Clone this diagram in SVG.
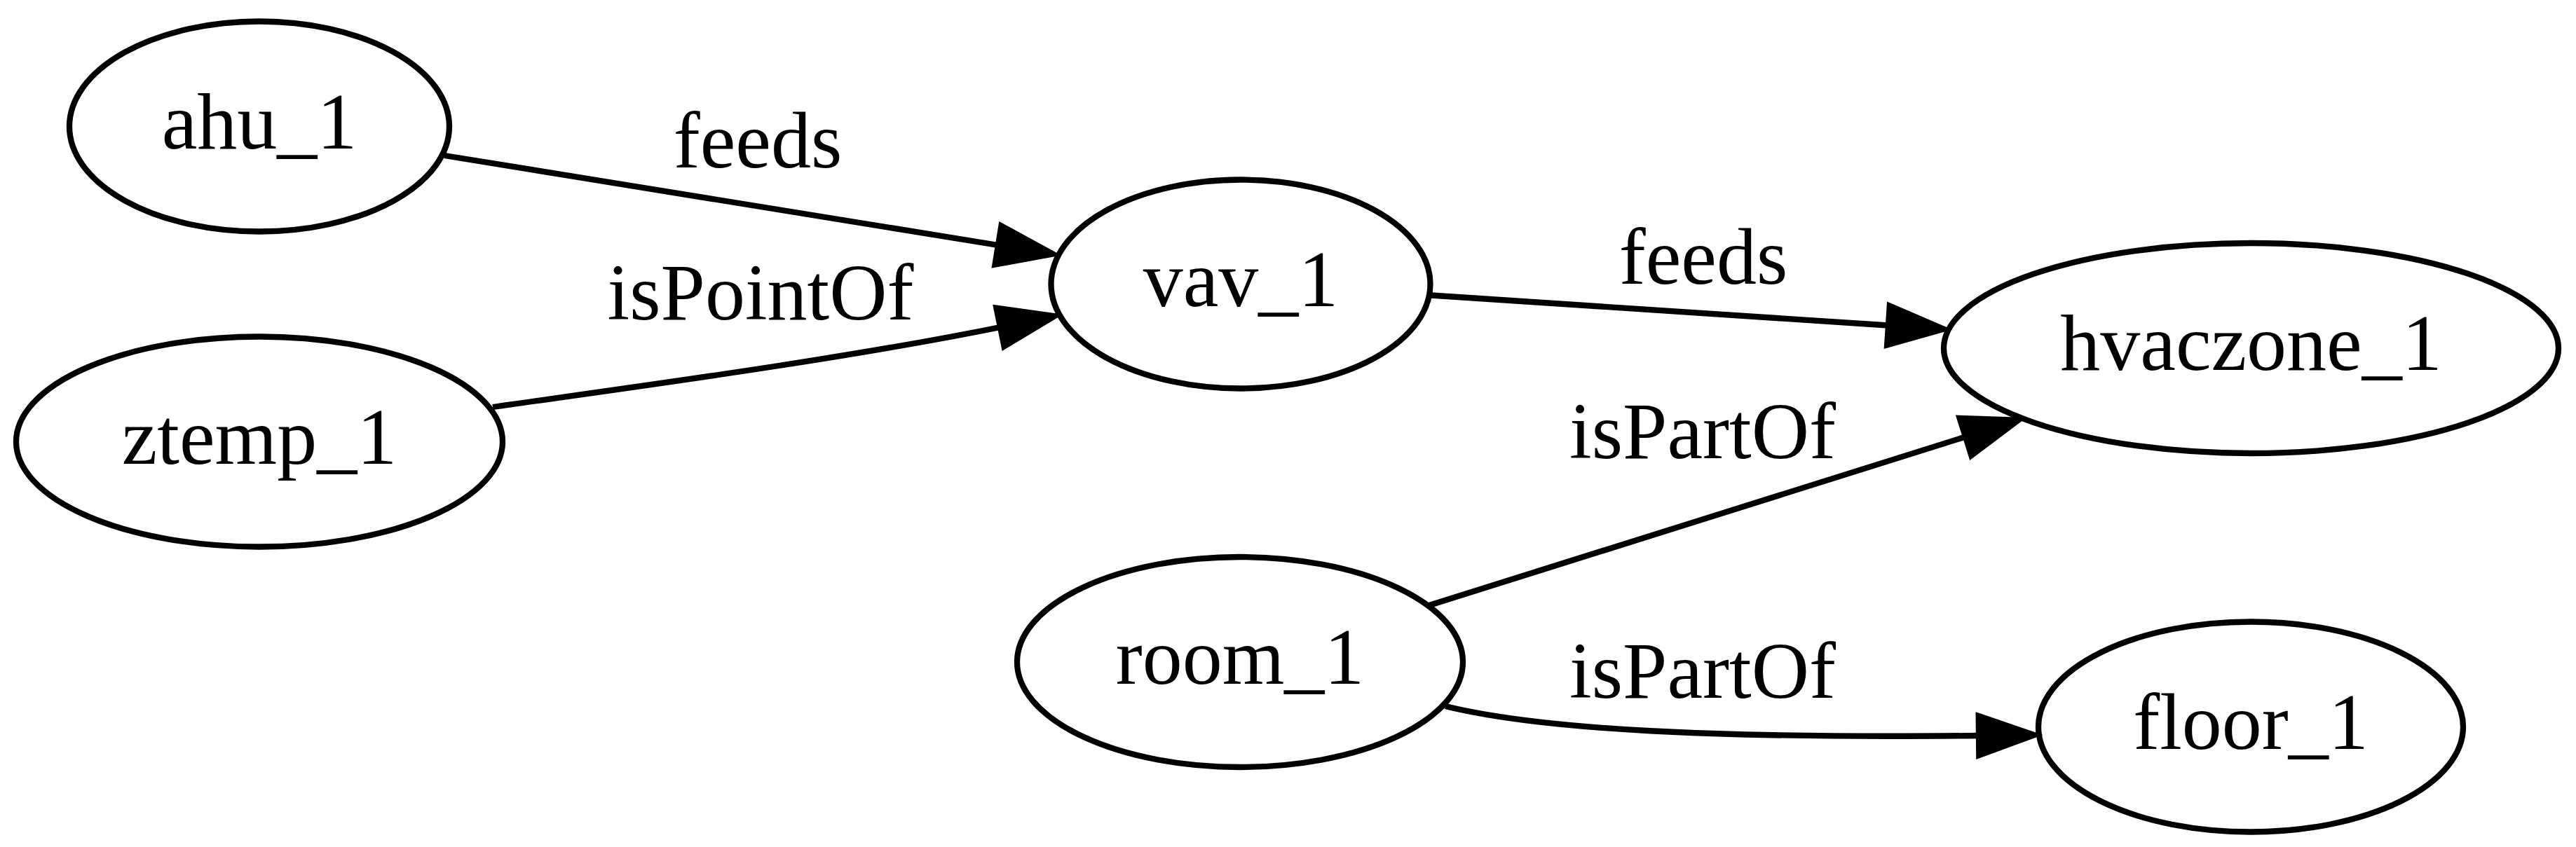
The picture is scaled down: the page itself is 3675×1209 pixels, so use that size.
<svg xmlns="http://www.w3.org/2000/svg" width="3675" height="1209" viewBox="0 0 3675 1209">
<style>
.node ellipse{fill:none;stroke:#000;stroke-width:8.3}
.node text,.elabel{font-family:"Liberation Serif","Times New Roman",serif;font-size:114px;fill:#000;text-anchor:middle}
.edge{fill:none;stroke:#000;stroke-width:8.3}
</style>
<defs>
<marker id="arr" markerUnits="userSpaceOnUse" markerWidth="100" markerHeight="80" viewBox="-5 -40 100 80" refX="0" refY="0" orient="auto" overflow="visible">
<path d="M0,-28 L79,0 L0,28 Z" fill="#000" stroke="#000" stroke-width="8.3" stroke-linejoin="miter"/>
</marker>
</defs>
<rect width="3675" height="1209" fill="#fff"/>
<g id="connectors">
<path class="edge" d="M634,222 L1424,350" marker-end="url(#arr)"/>
<text class="elabel" x="1081" y="239">feeds</text>
<path class="edge" d="M703,581 C900,553 1200,513 1427,467" marker-end="url(#arr)"/>
<text class="elabel" x="1085" y="456">isPointOf</text>
<path class="edge" d="M2042,421.5 L2694,464.5" marker-end="url(#arr)"/>
<text class="elabel" x="2430" y="405">feeds</text>
<path class="edge" d="M2039,864 L2804,623.5" marker-end="url(#arr)"/>
<text class="elabel" x="2429" y="654">isPartOf</text>
<path class="edge" d="M2062,1008 C2200,1042 2450,1054 2823,1050" marker-end="url(#arr)"/>
<text class="elabel" x="2429" y="996">isPartOf</text>
</g>
<g id="ahu_1" class="node"><ellipse cx="370" cy="180.5" rx="271" ry="150"/><text x="370" y="211.5">ahu_1</text></g>
<g id="ztemp_1" class="node"><ellipse cx="370" cy="630.5" rx="347" ry="150"/><text x="370" y="661.5">ztemp_1</text></g>
<g id="vav_1" class="node"><ellipse cx="1770" cy="405.5" rx="270.5" ry="149"/><text x="1770" y="436.5">vav_1</text></g>
<g id="hvaczone_1" class="node"><ellipse cx="3211.5" cy="497" rx="438.5" ry="150"/><text x="3211.5" y="528">hvaczone_1</text></g>
<g id="room_1" class="node"><ellipse cx="1769" cy="945" rx="318" ry="150"/><text x="1769" y="976">room_1</text></g>
<g id="floor_1" class="node"><ellipse cx="3211" cy="1037.5" rx="303" ry="150"/><text x="3211" y="1068.5">floor_1</text></g>
</svg>
